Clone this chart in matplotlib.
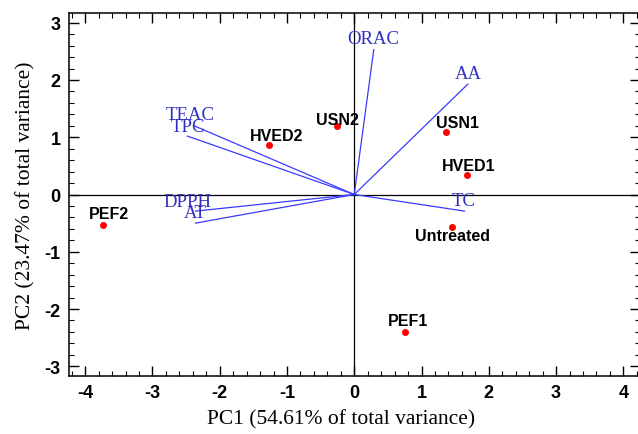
import matplotlib
matplotlib.use("Agg")
import matplotlib.pyplot as plt
from matplotlib.ticker import MultipleLocator

plt.rcParams["axes.unicode_minus"] = False

# Sample scores
samples = ["HVED2", "USN2", "USN1", "HVED1", "PEF2", "Untreated", "PEF1"]
pc1 = [-1.27, -0.25, 1.37, 1.67, -3.74, 1.46, 0.76]
pc2 = [0.87, 1.19, 1.09, 0.34, -0.53, -0.56, -2.41]
# label offsets in pixels (dx, dy)
sample_off = [(8, 9), (0, 7), (11, 10), (2, 10), (6, 11), (0, -9), (3, 12)]

# Variable loadings
variables = ["TEAC", "TPC", "DPPH", "AT", "ORAC", "AA", "TC"]
load1 = [-2.38, -2.48, -2.36, -2.36, 0.29, 1.69, 1.64]
load2 = [1.20, 1.02, -0.29, -0.50, 2.53, 1.93, -0.29]
var_off = [(-4, 11), (0, 10), (-8, 10), (0, 11), (-1, 11), (0, 10), (-1, 11)]

fig = plt.figure(figsize=(6.38, 4.35), dpi=100)
ax = fig.add_axes([69/638, 1-377/435, 570.5/638, 363/435])

ax.axhline(0, color="black", lw=0.9)
ax.axvline(0, color="black", lw=0.9)

for name, x, y, off in zip(variables, load1, load2, var_off):
    ax.plot([0, x], [0, y], color="#3a3aff", lw=0.9)
    ax.annotate(name, (x, y), xytext=off, textcoords="offset pixels",
                ha="center", va="center", color="#3030c0",
                family="Liberation Serif", fontsize=13.5)

ax.scatter(pc1, pc2, color="#ff0000", s=16, zorder=3)
for name, x, y, off in zip(samples, pc1, pc2, sample_off):
    ax.annotate(name, (x, y), xytext=off, textcoords="offset pixels",
                ha="center", va="center", color="black",
                family="Liberation Sans", fontweight="bold", fontsize=11.5)

ax.set_xlim(-4.24, 4.24)
ax.set_ylim(-3.17, 3.17)
ax.xaxis.set_major_locator(MultipleLocator(1))
ax.xaxis.set_minor_locator(MultipleLocator(0.2))
ax.yaxis.set_major_locator(MultipleLocator(1))
ax.yaxis.set_minor_locator(MultipleLocator(0.2))
ax.tick_params(which="both", direction="in", top=True, right=True)
ax.tick_params(which="major", length=7, width=1, pad=6)
ax.tick_params(which="minor", length=3.5, width=0.8)
for lab in ax.get_xticklabels() + ax.get_yticklabels():
    lab.set_family("Liberation Sans")
    lab.set_fontweight("bold")
    lab.set_fontsize(13)
for sp in ax.spines.values():
    sp.set_linewidth(1.1)

ax.set_xlabel("PC1 (54.61% of total variance)", family="Liberation Serif",
              fontsize=15.5)
ax.set_ylabel("PC2 (23.47% of total variance)", family="Liberation Serif",
              fontsize=15.5)
ax.xaxis.set_label_coords(0.477, -0.09)
ax.yaxis.set_label_coords(-0.058, 0.5)

fig.savefig("out.png", dpi=100)
